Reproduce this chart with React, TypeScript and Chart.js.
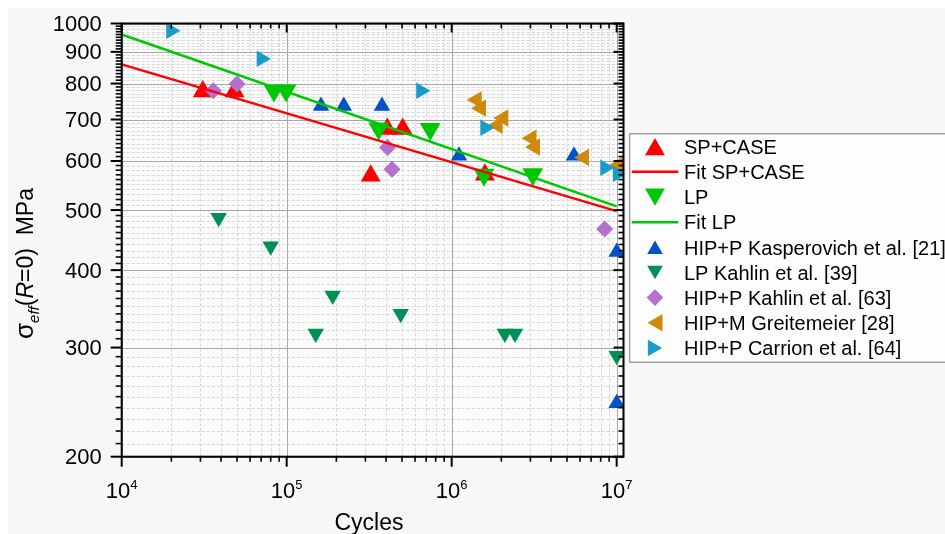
import React, { useEffect, useRef } from 'react';
import { Chart, registerables } from 'chart.js';

Chart.register(...registerables);

// ---------- data ----------
const spCycles = [31000, 48300, 407000, 505000, 323000, 1590000];
const spStress = [777, 777, 676, 676, 568, 570];

const fitCycles = [1e4, 1e7];
const fitSpStress = [859, 498];
const fitLpStress = [960, 507];

const lpCycles = [83700, 99100, 361000, 741000, 1570000, 3100000];
const lpStress = [780, 780, 677, 676, 570, 571];

const kaspCycles = [161500, 221800, 378000, 1108000, 5510000, 1e7, 1e7];
const kaspStress = [736, 736, 736, 612, 612, 428, 244];

const lpKahlinCycles = [38700, 80000, 150000, 190000, 491000, 2100000, 2420000, 1e7];
const lpKahlinStress = [486, 437, 316, 364, 340, 316, 316, 291];

const hipKahlinCycles = [35900, 50000, 409000, 435000, 8450000];
const hipKahlinStress = [779, 799, 631, 582, 466];

const greitCycles = [1418000, 1505000, 2055000, 1900000, 3050000, 3200000, 6340000, 10200000];
const greitStress = [753, 730, 704, 685, 653, 632, 608, 590];

const carrionCycles = [19900, 70300, 651000, 1594000, 8500000, 10130000];
const carrionStress = [973, 877, 779, 679, 585, 572];

const xMajorTicks = [1e4, 1e5, 1e6, 1e7];
const xTickExponents = ['4', '5', '6', '7'];
const yMajorTicks = [200, 300, 400, 500, 600, 700, 800, 900, 1000];

const seriesLabels = [
  'SP+CASE',
  'Fit SP+CASE',
  'LP',
  'Fit LP',
  'HIP+P Kasperovich et al. [21]',
  'LP Kahlin et al. [39]',
  'HIP+P Kahlin et al. [63]',
  'HIP+M Greitemeier [28]',
  'HIP+P Carrion et al. [64]',
];

// ---------- styles ----------
const FONT = '"Liberation Sans", Arial, Helvetica, sans-serif';
const RED = '#ff0000';
const GREEN = '#00c800';
const BLUE = '#0052c8';
const DKGREEN = '#008f55';
const PURPLE = '#b370d0';
const ORANGE = '#cf8a0c';
const CYAN = '#1a9cc8';
const BG = '#f7f7f7';
const PLOT_BG = '#fbfbfb';
const MAJOR_GRID = '#a8a8a8';
const MINOR_GRID = '#d6d6d6';

const pts = (xs: number[], ys: number[]) => xs.map((x, i) => ({ x, y: ys[i] }));

function markerPath(ctx: CanvasRenderingContext2D, style: string, rotDeg: number, x: number, y: number, r: number) {
  let rad = (rotDeg * Math.PI) / 180;
  ctx.beginPath();
  if (style === 'triangle') {
    ctx.moveTo(x + Math.sin(rad) * r, y - Math.cos(rad) * r);
    rad += (2 * Math.PI) / 3;
    ctx.lineTo(x + Math.sin(rad) * r, y - Math.cos(rad) * r);
    rad += (2 * Math.PI) / 3;
    ctx.lineTo(x + Math.sin(rad) * r, y - Math.cos(rad) * r);
  } else {
    const xo = Math.cos(rad) * r;
    const yo = Math.sin(rad) * r;
    ctx.moveTo(x - xo, y - yo);
    ctx.lineTo(x + yo, y - xo);
    ctx.lineTo(x + xo, y + yo);
    ctx.lineTo(x - yo, y + xo);
  }
  ctx.closePath();
}

function minorX(): number[] {
  const out: number[] = [];
  for (let d = 4; d <= 7; d++) {
    for (let k = 2; k <= 9; k++) {
      const v = k * Math.pow(10, d);
      if (v <= 1.1e7) out.push(v);
    }
  }
  return out;
}
function minorY(): number[] {
  const out: number[] = [];
  for (let v = 210; v < 1000; v += 10) if (v % 100 !== 0) out.push(v);
  return out;
}

const decorPlugin = {
  id: 'decor',
  beforeDraw(chart: any) {
    const { ctx, chartArea: a } = chart;
    const xs = chart.scales.x;
    const ys = chart.scales.y;
    ctx.save();
    ctx.fillStyle = BG;
    ctx.fillRect(0, 0, chart.width, chart.height);
    ctx.fillStyle = PLOT_BG;
    ctx.fillRect(a.left, a.top, a.right - a.left, a.bottom - a.top);

    ctx.lineWidth = 1;
    ctx.setLineDash([3, 2]);
    ctx.strokeStyle = MINOR_GRID;
    minorX().forEach((v) => {
      const p = Math.round(xs.getPixelForValue(v)) + 0.5;
      ctx.beginPath();
      ctx.moveTo(p, a.top);
      ctx.lineTo(p, a.bottom);
      ctx.stroke();
    });
    minorY().forEach((v) => {
      const p = Math.round(ys.getPixelForValue(v)) + 0.5;
      ctx.beginPath();
      ctx.moveTo(a.left, p);
      ctx.lineTo(a.right, p);
      ctx.stroke();
    });
    ctx.setLineDash([]);
    ctx.strokeStyle = MAJOR_GRID;
    xMajorTicks.forEach((v) => {
      const p = Math.round(xs.getPixelForValue(v)) + 0.5;
      ctx.beginPath();
      ctx.moveTo(p, a.top);
      ctx.lineTo(p, a.bottom);
      ctx.stroke();
    });
    yMajorTicks.forEach((v) => {
      const p = Math.round(ys.getPixelForValue(v)) + 0.5;
      ctx.beginPath();
      ctx.moveTo(a.left, p);
      ctx.lineTo(a.right, p);
      ctx.stroke();
    });
    ctx.restore();
  },
  afterDraw(chart: any) {
    const { ctx, chartArea: a } = chart;
    const xs = chart.scales.x;
    const ys = chart.scales.y;
    ctx.save();
    // ticks
    ctx.strokeStyle = '#000';
    const tick = (x1: number, y1: number, x2: number, y2: number, w: number) => {
      ctx.lineWidth = w;
      ctx.beginPath();
      ctx.moveTo(x1, y1);
      ctx.lineTo(x2, y2);
      ctx.stroke();
    };
    minorX().forEach((v) => {
      const p = xs.getPixelForValue(v);
      tick(p, a.bottom, p, a.bottom + 5, 1.6);
      tick(p, a.top, p, a.top + 5, 1.6);
    });
    xMajorTicks.forEach((v) => {
      const p = xs.getPixelForValue(v);
      tick(p, a.bottom, p, a.bottom + 10, 2);
      tick(p, a.top, p, a.top + 9, 2);
    });
    minorY().forEach((v) => {
      const p = ys.getPixelForValue(v);
      tick(a.left - 6, p, a.left, p, 1.6);
      tick(a.right - 5, p, a.right, p, 1.6);
    });
    yMajorTicks.forEach((v) => {
      const p = ys.getPixelForValue(v);
      tick(a.left - 11, p, a.left, p, 2);
      tick(a.right - 10, p, a.right, p, 2);
    });
    // spines
    ctx.lineWidth = 2;
    ctx.strokeRect(a.left, a.top, a.right - a.left, a.bottom - a.top);

    // y tick labels
    ctx.fillStyle = '#000';
    ctx.font = `22px ${FONT}`;
    ctx.textAlign = 'right';
    ctx.textBaseline = 'alphabetic';
    yMajorTicks.forEach((v) => {
      const p = ys.getPixelForValue(v);
      ctx.fillText(String(v), a.left - 20, p + 7.5);
    });
    // x tick labels 10^n
    xMajorTicks.forEach((v, i) => {
      const p = xs.getPixelForValue(v);
      ctx.font = `22px ${FONT}`;
      const wb = ctx.measureText('10').width;
      ctx.font = `13px ${FONT}`;
      const we = ctx.measureText(xTickExponents[i]).width;
      const start = p - (wb + we) / 2;
      ctx.textAlign = 'left';
      ctx.font = `22px ${FONT}`;
      ctx.fillText('10', start, a.bottom + 41.5);
      ctx.font = `13px ${FONT}`;
      ctx.fillText(xTickExponents[i], start + wb, a.bottom + 32.5);
    });
    // x title
    ctx.font = `23px ${FONT}`;
    ctx.textAlign = 'center';
    ctx.fillText('Cycles', 361, 522);

    // y title (rotated)
    ctx.save();
    ctx.translate(25, 331);
    ctx.rotate(-Math.PI / 2);
    ctx.textAlign = 'left';
    let cx = 0;
    ctx.font = `26px ${FONT}`;
    ctx.fillText('σ', cx, 0);
    cx += ctx.measureText('σ').width;
    ctx.font = `italic 15px ${FONT}`;
    ctx.fillText('eff', cx, 6);
    cx += ctx.measureText('eff').width;
    ctx.font = `23px ${FONT}`;
    ctx.fillText('(', cx, 0);
    cx += ctx.measureText('(').width;
    ctx.font = `italic 23px ${FONT}`;
    ctx.fillText('R', cx, 0);
    cx += ctx.measureText('R').width;
    ctx.font = `23px ${FONT}`;
    ctx.fillText('=0)  MPa', cx, 0);
    ctx.restore();

    // legend
    const lx = 621.3;
    const ly = 125.3;
    ctx.fillStyle = '#fdfdfd';
    ctx.fillRect(lx, ly, 400, 228.4);
    ctx.strokeStyle = '#7a7a7a';
    ctx.lineWidth = 1;
    ctx.strokeRect(lx + 0.5, ly + 0.5, 400, 228.4);
    chart.data.datasets.forEach((ds: any, i: number) => {
      const y = 138.7 + 25.15 * i;
      if (ds.showLine) {
        ctx.strokeStyle = ds.borderColor;
        ctx.lineWidth = 2.5;
        ctx.beginPath();
        ctx.moveTo(623.7, y);
        ctx.lineTo(670.3, y);
        ctx.stroke();
      } else {
        ctx.fillStyle = ds.backgroundColor;
        const r = ds.legendRadius;
        const rot = ds.pointRotation || 0;
        const rad = (rot * Math.PI) / 180;
        let ox = 0;
        let oy = 0;
        if (ds.pointStyle === 'triangle') {
          ox = -0.25 * r * Math.sin(rad);
          oy = 0.25 * r * Math.cos(rad);
        }
        markerPath(ctx, ds.pointStyle, rot, 647 + ox, y + oy, r);
        ctx.fill();
      }
      ctx.fillStyle = '#000';
      ctx.font = `20px ${FONT}`;
      ctx.textAlign = 'left';
      ctx.fillText(ds.label, 676, y + 7.2);
    });
    ctx.restore();
  },
};

export default function App() {
  const ref = useRef<HTMLCanvasElement>(null);
  useEffect(() => {
    const canvas = ref.current;
    if (!canvas) return;
    const scatter = (i: number, xs: number[], ys: number[], color: string, style: string, rot: number, r: number, lr: number, order: number) => ({
      label: seriesLabels[i],
      data: pts(xs, ys),
      showLine: false,
      pointStyle: style,
      pointRotation: rot,
      pointRadius: r,
      pointHoverRadius: r,
      pointBorderWidth: 0,
      borderWidth: 0,
      backgroundColor: color,
      borderColor: color,
      legendRadius: lr,
      order,
    });
    const fit = (i: number, ys: number[], color: string) => ({
      type: 'line' as const,
      label: seriesLabels[i],
      data: pts(fitCycles, ys),
      showLine: true,
      pointRadius: 0,
      borderWidth: 2.5,
      borderColor: color,
      backgroundColor: color,
      fill: false,
      order: 0,
    });
    const chart = new Chart(canvas, {
      type: 'scatter',
      data: {
        datasets: [
          scatter(0, spCycles, spStress, RED, 'triangle', 0, 11.5, 11.5, 9),
          fit(1, fitSpStress, RED),
          scatter(2, lpCycles, lpStress, GREEN, 'triangle', 180, 12, 11.5, 7),
          fit(3, fitLpStress, GREEN),
          scatter(4, kaspCycles, kaspStress, BLUE, 'triangle', 0, 9.5, 9, 5),
          scatter(5, lpKahlinCycles, lpKahlinStress, DKGREEN, 'triangle', 180, 9.5, 9, 4),
          scatter(6, hipKahlinCycles, hipKahlinStress, PURPLE, 'rectRot', 0, 8.5, 8.3, 3),
          scatter(7, greitCycles, greitStress, ORANGE, 'triangle', -90, 10, 10, 2),
          scatter(8, carrionCycles, carrionStress, CYAN, 'triangle', 90, 9.5, 9.5, 1),
        ] as any,
      },
      options: {
        responsive: false,
        animation: false,
        devicePixelRatio: 1,
        events: [],
        layout: { padding: { left: 113.7, right: 321.5, top: 15.5, bottom: 77.3 } },
        scales: {
          x: { type: 'logarithmic', min: 1e4, max: 1.1e7, display: false },
          y: { type: 'logarithmic', min: 200, max: 1000, display: false },
        },
        plugins: { legend: { display: false }, tooltip: { enabled: false } },
      },
      plugins: [decorPlugin],
    });
    return () => chart.destroy();
  }, []);
  return (
    <div style={{ position: 'fixed', left: 8, top: 8, width: 937, height: 526, overflow: 'hidden' }}>
      <canvas ref={ref} width={937} height={526} style={{ display: 'block', width: 937, height: 526 }} />
    </div>
  );
}
